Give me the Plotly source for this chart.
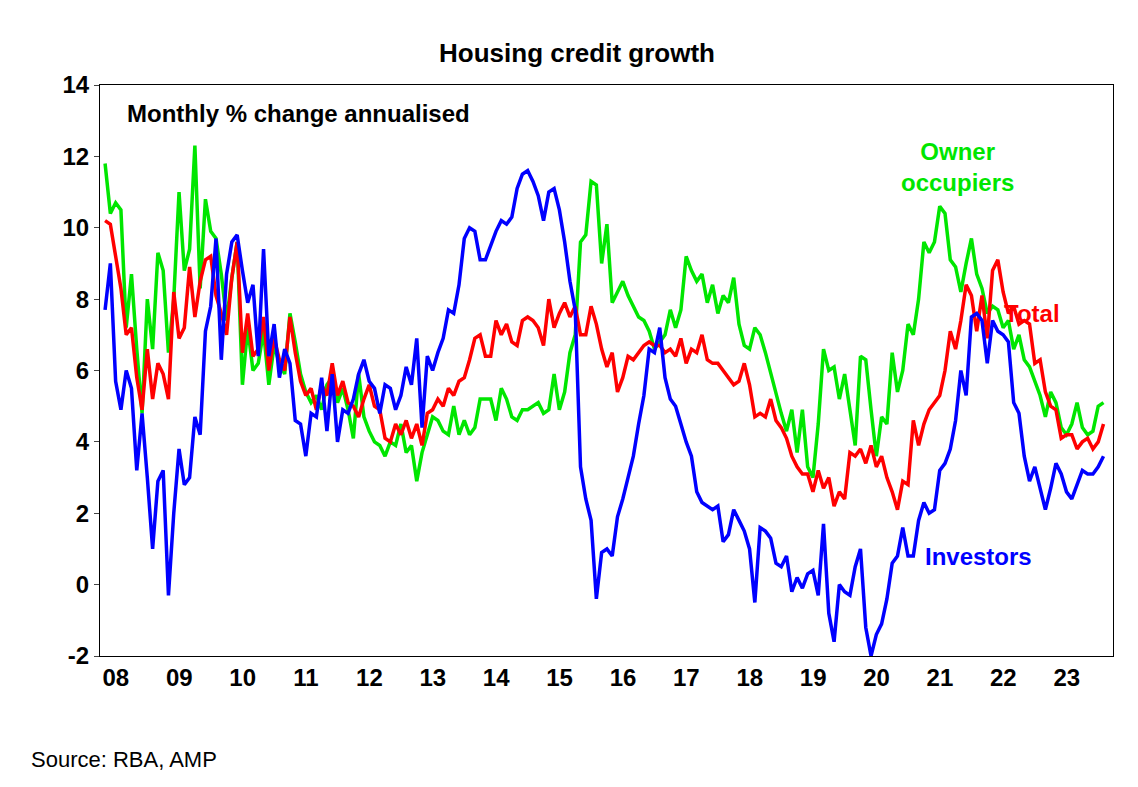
import plotly.graph_objects as go
import numpy as np

investors = [
    7.7, 9.0, 5.7, 4.9, 6.0, 5.5, 3.2, 4.8, 3.0, 1.0, 2.9, 3.2,
    -0.3, 2.0, 3.8, 2.8, 3.0, 4.7, 4.2, 7.1, 7.8, 9.7, 6.3, 8.7,
    9.6, 9.8, 8.8, 7.9, 8.4, 6.4, 9.4, 6.4, 7.3, 5.8, 6.6, 6.2,
    4.6, 4.5, 3.6, 4.8, 4.7, 5.8, 4.3, 5.9, 4.0, 4.9, 4.8, 5.2,
    5.9, 6.3, 5.7, 5.5, 4.8, 5.6, 5.5, 4.9, 5.3, 6.1, 5.6, 6.9,
    4.4, 6.4, 6.0, 6.5, 6.9, 7.7, 7.6, 8.4, 9.7, 10.0, 9.9, 9.1,
    9.1, 9.5, 9.9, 10.2, 10.1, 10.3, 11.1, 11.5, 11.6, 11.3, 10.9, 10.2,
    11.0, 11.1, 10.5, 9.6, 8.5, 7.7, 3.3, 2.4, 1.8, -0.4, 0.9, 1.0,
    0.8, 1.9, 2.4, 3.0, 3.6, 4.5, 5.3, 6.6, 6.5, 7.2, 5.8, 5.2,
    5.0, 4.5, 4.0, 3.6, 2.6, 2.3, 2.2, 2.1, 2.2, 1.2, 1.4, 2.1,
    1.8, 1.5, 1.0, -0.5, 1.6, 1.5, 1.3, 0.6, 0.5, 0.8, -0.2, 0.2,
    -0.1, 0.3, 0.4, -0.3, 1.7, -0.8, -1.6, 0.0, -0.2, -0.3, 0.5, 1.0,
    -1.2, -2.0, -1.4, -1.1, -0.4, 0.6, 0.8, 1.6, 0.8, 0.8, 1.8, 2.3,
    2.0, 2.1, 3.2, 3.4, 3.8, 4.6, 6.0, 5.3, 7.5, 7.6, 7.4, 6.2,
    7.4, 7.1, 7.0, 6.8, 5.1, 4.8, 3.6, 2.9, 3.3, 2.7, 2.1, 2.7,
    3.4, 3.1, 2.6, 2.4, 2.8, 3.2, 3.1, 3.1, 3.3, 3.6,
]
total = [
    10.2, 10.1, 9.2, 8.3, 7.0, 7.2, 5.8, 4.9, 6.6, 5.2, 6.2, 5.9,
    5.2, 8.2, 6.9, 7.2, 8.9, 7.5, 8.5, 9.1, 9.2, 8.1, 7.6, 7.0,
    8.6, 9.6, 6.5, 7.6, 6.4, 6.6, 7.5, 6.0, 6.9, 6.3, 6.0, 7.5,
    6.5, 5.7, 5.3, 5.5, 4.9, 5.6, 5.3, 6.2, 5.3, 5.7, 5.1, 5.0,
    4.7, 5.2, 5.6, 5.0, 4.9, 4.1, 4.0, 4.5, 4.2, 4.6, 4.1, 4.5,
    3.9, 4.8, 4.9, 5.2, 5.0, 5.5, 5.3, 5.7, 5.8, 6.3, 6.9, 7.0,
    6.4, 6.4, 7.4, 7.0, 7.3, 6.8, 6.7, 7.4, 7.5, 7.4, 7.2, 6.7,
    8.0, 7.2, 7.6, 7.9, 7.5, 7.8, 7.0, 7.0, 7.8, 7.3, 6.6, 6.1,
    6.5, 5.4, 5.8, 6.4, 6.3, 6.5, 6.7, 6.8, 6.7, 6.7, 6.5, 6.6,
    6.4, 6.9, 6.2, 6.6, 6.5, 7.0, 6.3, 6.2, 6.2, 6.0, 5.8, 5.6,
    5.7, 6.2, 5.6, 4.7, 4.8, 4.7, 5.2, 4.6, 4.4, 4.1, 3.6, 3.3,
    3.1, 3.1, 2.6, 3.2, 2.7, 3.0, 2.2, 2.6, 2.4, 3.7, 3.6, 3.8,
    3.4, 3.9, 3.3, 3.6, 3.0, 2.6, 2.1, 2.9, 2.8, 4.6, 3.9, 4.5,
    4.9, 5.1, 5.3, 6.0, 7.1, 6.6, 7.4, 8.4, 8.1, 7.1, 8.1, 6.9,
    8.8, 9.1, 8.2, 7.6, 7.8, 7.3, 7.4, 7.3, 6.2, 6.3, 5.4, 5.0,
    4.9, 4.1, 4.2, 4.2, 3.8, 4.0, 4.1, 3.8, 4.0, 4.5,
]
owner = [
    11.8, 10.4, 10.7, 10.5, 7.2, 8.7, 6.6, 4.8, 8.0, 6.6, 9.3, 8.8,
    6.5, 8.0, 11.0, 8.8, 9.4, 12.3, 8.3, 10.8, 9.9, 9.7, 8.7, 7.4,
    8.6, 9.6, 5.6, 7.2, 6.0, 6.2, 7.1, 5.6, 6.7, 6.2, 5.9, 7.6,
    6.8, 5.9, 5.4, 5.1, 5.3, 4.9, 5.6, 5.8, 5.1, 5.5, 4.9, 4.1,
    5.9, 4.7, 4.3, 4.0, 3.9, 3.6, 4.0, 3.9, 4.5, 3.7, 3.9, 2.9,
    3.7, 4.2, 4.7, 4.6, 4.3, 4.2, 5.0, 4.2, 4.6, 4.2, 4.4, 5.2,
    5.2, 5.2, 4.6, 5.5, 5.2, 4.7, 4.6, 4.9, 4.9, 5.0, 5.1, 4.8,
    4.9, 5.9, 4.9, 5.4, 6.5, 7.0, 9.6, 9.8, 11.3, 11.2, 9.0, 10.1,
    7.9, 8.2, 8.5, 8.1, 7.8, 7.5, 7.4, 7.1, 6.6, 6.8, 7.0, 7.7,
    7.2, 7.7, 9.2, 8.8, 8.5, 8.7, 7.9, 8.4, 7.6, 8.1, 7.9, 8.6,
    7.3, 6.7, 6.6, 7.2, 7.0, 6.5, 5.9, 5.3, 4.8, 4.3, 4.9, 3.7,
    4.9, 3.3, 3.0, 4.5, 6.6, 6.0, 6.1, 5.2, 5.9, 4.9, 3.9, 6.4,
    6.3, 4.9, 3.6, 4.7, 4.5, 6.5, 5.4, 6.0, 7.3, 7.0, 8.0, 9.6,
    9.3, 9.6, 10.6, 10.4, 9.1, 8.9, 8.2, 9.0, 9.7, 8.7, 8.3, 7.6,
    7.8, 7.7, 7.2, 7.4, 6.6, 7.0, 6.3, 6.1, 5.7, 5.3, 4.7, 5.4,
    5.1, 4.4, 4.2, 4.5, 5.1, 4.4, 4.2, 4.3, 5.0, 5.1,
]
year_labels = ["08", "09", "10", "11", "12", "13", "14", "15", "16",
               "17", "18", "19", "20", "21", "22", "23"]

t = 2008 + np.arange(len(total)) / 12

fig = go.Figure()
fig.add_trace(go.Scatter(x=t, y=owner, mode="lines", line=dict(color="#00e600", width=3.5)))
fig.add_trace(go.Scatter(x=t, y=total, mode="lines", line=dict(color="#ff0000", width=3.5)))
fig.add_trace(go.Scatter(x=t, y=investors, mode="lines", line=dict(color="#0000ff", width=3.5)))

bold = dict(family="Liberation Sans, Arial", size=24, color="black")
fig.update_layout(
    width=1138, height=787, showlegend=False,
    plot_bgcolor="white", paper_bgcolor="white",
    margin=dict(l=92, r=33, t=77, b=139, autoexpand=False),
    font=dict(family="Liberation Sans, Arial"),
    title=dict(text="<b>Housing credit growth</b>", x=0.5, xanchor="center", y=0.955,
               automargin=False, font=dict(size=26, color="black")),
    xaxis=dict(range=[2007.92, 2023.9], tickvals=[2008.17 + i for i in range(16)],
               ticktext=[f"<b>{s}</b>" for s in year_labels], tickfont=bold,
               automargin=False,
               showgrid=False, zeroline=False, showline=True, linecolor="black",
               linewidth=1, mirror=True, ticks="", ticklen=0),
    yaxis=dict(range=[-2, 14], tickvals=list(range(-2, 15, 2)),
               ticktext=[f"<b>{v}</b>" for v in range(-2, 15, 2)], tickfont=bold,
               automargin=False,
               showgrid=False, zeroline=False, showline=True, linecolor="black",
               linewidth=1, mirror=True, ticks="outside", ticklen=5),
)
ann = [
    ("Monthly % change annualised", 0.025, 13.2, "black", "left"),
    ("Owner<br>occupiers", 2021.45, 11.7, "#00e600", "center"),
    ("Total", 2022.15, 7.6, "#ff0000", "left"),
    ("Investors", 2020.9, 0.8, "#0000ff", "left"),
]
for text, x, y, c, al in ann:
    fig.add_annotation(text=f"<b>{text}</b>", x=x, y=y, xref="paper" if x < 1 else "x",
                       yref="y", showarrow=False, xanchor=al, align="center",
                       font=dict(size=24, color=c))
fig.add_annotation(text="Source: RBA, AMP", x=-0.07, y=-0.155, xref="paper", yref="paper",
                   xanchor="left", yanchor="top", showarrow=False,
                   font=dict(size=22, color="black"))
fig.write_html("out.html")
